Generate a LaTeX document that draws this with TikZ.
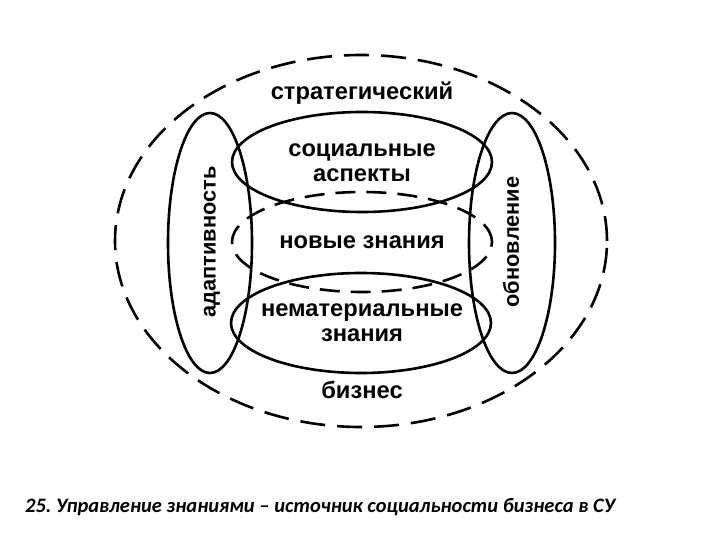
\documentclass[tikz,border=0pt]{standalone}
\usepackage{fontspec}
\setmainfont{Liberation Sans}
\newfontfamily\capfont{Carlito}
\begin{document}
\begin{tikzpicture}[x=1pt,y=-1pt,
  ring/.style={line width=2.6pt},
  dashring/.style={line width=2.6pt,dash pattern=on 25pt off 12pt},
  middash/.style={line width=2.6pt,dash pattern=on 20pt off 11pt},
  lbl/.style={font=\fontsize{23.7}{25}\selectfont\bfseries,align=center,inner sep=0pt},
  vlbl/.style={font=\fontsize{21.8}{25}\selectfont\bfseries,inner sep=0pt,rotate=90},
  captext/.style={font=\capfont\fontsize{20.5}{25}\selectfont\bfseries\itshape,anchor=west,inner sep=0pt}]
\fill[white] (0,0) rectangle (720,540);
\useasboundingbox (0,0) rectangle (720,540);
% outer dashed ellipse
\draw[dashring] (361,241) ellipse [x radius=246pt, y radius=186pt];
% left and right vertical ellipses
\draw[ring] (210,243) ellipse [x radius=42pt, y radius=130pt];
\draw[ring] (512,243) ellipse [x radius=43pt, y radius=130pt];
% top, middle, bottom ellipses
\draw[ring] (362,162) ellipse [x radius=130pt, y radius=50pt];
\draw[middash] (362,242) ellipse [x radius=130pt, y radius=50pt];
\draw[ring] (361,323) ellipse [x radius=130pt, y radius=50pt];
% labels
\node[lbl] (strat) at (362,93) {стратегический};
\node[lbl] (soc) at (362,163) {социальные\\аспекты};
\node[lbl] (new) at (362,242) {новые знания};
\node[lbl] (nemat) at (362,323) {нематериальные\\знания};
\node[lbl] (biz) at (362,390) {бизнес};
\node[vlbl] (adapt) at (212,242) {адаптивность};
\node[vlbl] (obn) at (511,242) {обновление};
\node[captext] (caption) at (25,507) {25.\ Управление знаниями – источник социальности бизнеса в СУ};
\end{tikzpicture}
\end{document}
